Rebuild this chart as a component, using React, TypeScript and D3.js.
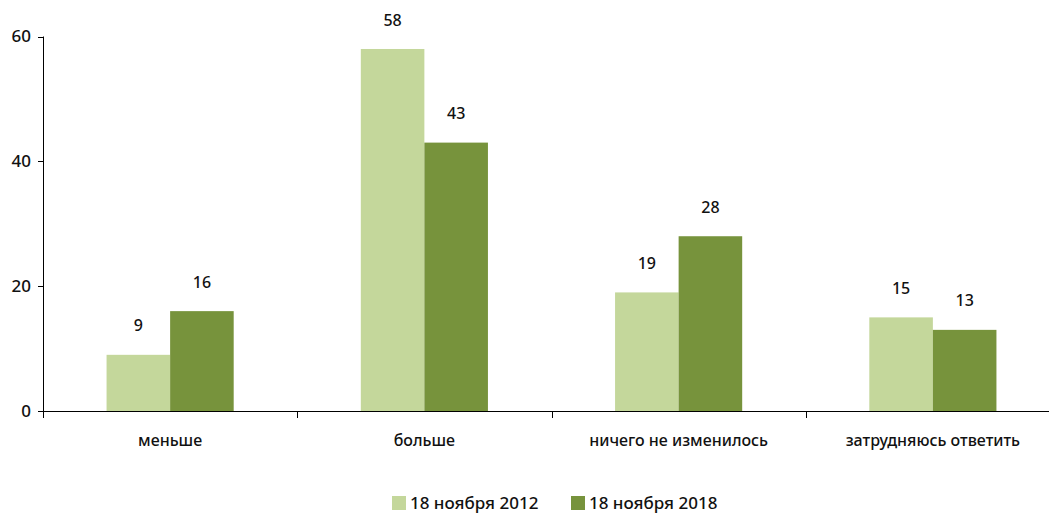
import React, { useEffect, useRef } from "react";
import * as d3 from "d3";

const categories = ["меньше", "больше", "ничего не изменилось", "затрудняюсь ответить"];
const seriesNames = ["18 ноября 2012", "18 ноября 2018"];
const values2012 = [9, 58, 19, 15];
const values2018 = [16, 43, 28, 13];
const yTicks = [0, 20, 40, 60];
const colors = ["#C4D79B", "#77933C"];

const W = 1049;
const H = 513;
const FONT = "'Noto Sans', 'Open Sans', sans-serif";
const WEIGHT = 500;
const INK = "#111";

export default function App() {
  const ref = useRef<SVGSVGElement>(null);
  useEffect(() => {
    const svg = d3.select(ref.current);
    svg.selectAll("*").remove();
    const left = 43, right = 1060, top = 36.5, bottom = 411;
    const x = d3.scaleBand<string>().domain(categories).range([left, right]);
    const y = d3.scaleLinear().domain([0, 60]).range([bottom, top]);
    const inner = d3.scaleBand<number>().domain([0, 1]).range([0, x.bandwidth()]).paddingInner(0).paddingOuter(1);
    const series = [values2012, values2018];

    const g = svg.append("g");
    series.forEach((vals, si) => {
      g.selectAll(`rect.s${si}`)
        .data(vals)
        .enter()
        .append("rect")
        .attr("x", (_, i) => (x(categories[i]) as number) + (inner(si) as number))
        .attr("width", inner.bandwidth())
        .attr("y", (d) => y(d))
        .attr("height", (d) => bottom - y(d))
        .attr("fill", colors[si]);
      g.selectAll(`text.l${si}`)
        .data(vals)
        .enter()
        .append("text")
        .attr("x", (_, i) => (x(categories[i]) as number) + (inner(si) as number) + inner.bandwidth() / 2)
        .attr("y", (d) => y(d) - 29)
        .attr("dy", "0.35em")
        .attr("text-anchor", "middle")
        .attr("font-family", FONT)
        .attr("font-weight", WEIGHT)
        .attr("font-size", 16)
        .attr("fill", INK)
        .text((d) => String(d));
    });

    // y axis
    const ya = svg.append("g");
    ya.append("line").attr("x1", left + 0.5).attr("x2", left + 0.5).attr("y1", y(60)).attr("y2", bottom).attr("stroke", "#000");
    yTicks.forEach((t) => {
      ya.append("line").attr("x1", left - 5).attr("x2", left).attr("y1", Math.round(y(t)) + 0.5).attr("y2", Math.round(y(t)) + 0.5).attr("stroke", "#000");
      ya.append("text")
        .attr("x", left - 12)
        .attr("y", y(t))
        .attr("dy", "0.35em")
        .attr("text-anchor", "end")
        .attr("font-family", FONT)
        .attr("font-weight", WEIGHT)
        .attr("font-size", 17)
        .attr("fill", INK)
        .text(String(t));
    });

    // x axis
    const xa = svg.append("g");
    xa.append("line").attr("x1", left).attr("x2", right).attr("y1", bottom + 0.5).attr("y2", bottom + 0.5).attr("stroke", "#000");
    categories.forEach((c) => {
      const x0 = x(c) as number;
      xa.append("line").attr("x1", Math.round(x0) + 0.5).attr("x2", Math.round(x0) + 0.5).attr("y1", bottom).attr("y2", bottom + 7).attr("stroke", "#000");
      xa.append("text")
        .attr("x", x0 + x.bandwidth() / 2)
        .attr("y", 440)
        .attr("dy", "0.35em")
        .attr("text-anchor", "middle")
        .attr("font-family", FONT)
        .attr("font-weight", WEIGHT)
        .attr("font-size", 16)
        .attr("fill", INK)
        .text(c);
    });

    // legend
    const legendX = [392, 571];
    seriesNames.forEach((n, i) => {
      svg.append("rect").attr("x", legendX[i]).attr("y", 496).attr("width", 14).attr("height", 14).attr("fill", colors[i]);
      svg.append("text")
        .attr("x", legendX[i] + 18)
        .attr("y", 503)
        .attr("dy", "0.35em")
        .attr("font-family", FONT)
        .attr("font-weight", WEIGHT)
        .attr("font-size", 17)
        .attr("fill", INK)
        .text(n);
    });
  }, []);
  return (
    <svg
      ref={ref}
      width={W}
      height={H}
      style={{ position: "absolute", left: 0, top: 0, background: "#fff" }}
    />
  );
}
